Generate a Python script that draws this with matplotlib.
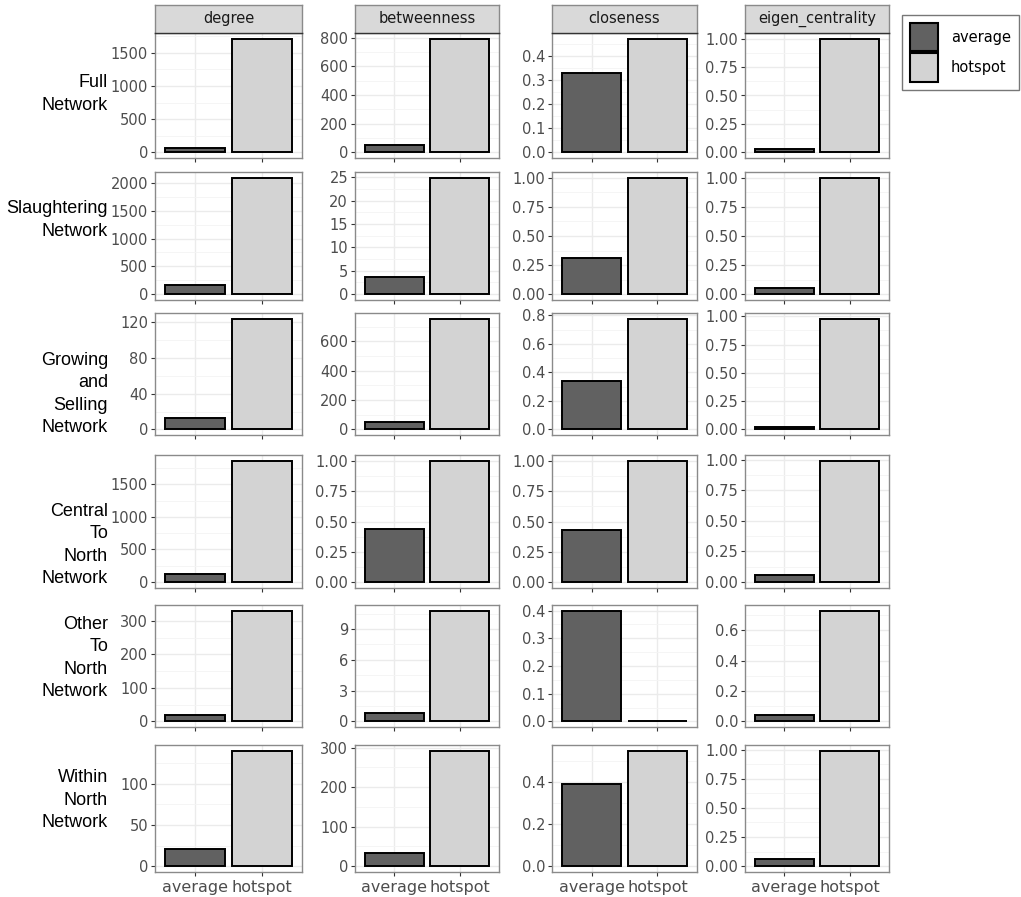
import matplotlib
matplotlib.use("Agg")
import matplotlib.pyplot as plt
from matplotlib.patches import Patch
from matplotlib.ticker import AutoMinorLocator, FixedLocator, FuncFormatter

# ---------------- data ----------------
row_labels = ["Full\nNetwork", "Slaughtering\nNetwork", "Growing\nand\nSelling\nNetwork",
              "Central\nTo\nNorth\nNetwork", "Other\nTo\nNorth\nNetwork", "Within\nNorth\nNetwork"]
metrics = ["degree", "betweenness", "closeness", "eigen_centrality"]
categories = ["average", "hotspot"]

degree_avg = [65, 158, 13, 129, 20, 21]
degree_hot = [1715, 2091, 124, 1856, 331, 140]
betweenness_avg = [52, 3.6, 52, 0.434, 0.83, 33]
betweenness_hot = [793, 24.9, 755, 1.0, 10.8, 292]
closeness_avg = [0.33, 0.31, 0.34, 0.433, 0.40, 0.392]
closeness_hot = [0.472, 1.0, 0.777, 1.0, 0.003, 0.55]
eigen_avg = [0.025, 0.057, 0.025, 0.061, 0.041, 0.065]
eigen_hot = [1.0, 1.0, 0.98, 0.99, 0.728, 0.99]

# y tick values per panel (row, metric)
degree_ticks = [[0, 500, 1000, 1500], [0, 500, 1000, 1500, 2000], [0, 40, 80, 120],
                [0, 500, 1000, 1500], [0, 100, 200, 300], [0, 50, 100]]
betweenness_ticks = [[0, 200, 400, 600, 800], [0, 5, 10, 15, 20, 25], [0, 200, 400, 600],
                     [0, 0.25, 0.5, 0.75, 1.0], [0, 3, 6, 9], [0, 100, 200, 300]]
closeness_ticks = [[0, 0.1, 0.2, 0.3, 0.4], [0, 0.25, 0.5, 0.75, 1.0], [0, 0.2, 0.4, 0.6, 0.8],
                   [0, 0.25, 0.5, 0.75, 1.0], [0, 0.1, 0.2, 0.3, 0.4], [0, 0.2, 0.4]]
eigen_ticks = [[0, 0.25, 0.5, 0.75, 1.0]] * 4 + [[0, 0.2, 0.4, 0.6], [0, 0.25, 0.5, 0.75, 1.0]]

avg_vals = [degree_avg, betweenness_avg, closeness_avg, eigen_avg]
hot_vals = [degree_hot, betweenness_hot, closeness_hot, eigen_hot]
tick_sets = [degree_ticks, betweenness_ticks, closeness_ticks, eigen_ticks]

# ---------------- style ----------------
W, H = 1021, 897
fill_colors = ["#616161", "#d3d3d3"]
tick_color = "#4d4d4d"

fig = plt.figure(figsize=(W / 100, H / 100), dpi=100)
fig.patch.set_facecolor("white")


def px_box(l, t, r, b):
    return [l / W, 1 - b / H, (r - l) / W, (b - t) / H]


col_lr = [(155, 302), (355, 499), (552, 697), (745, 889)]
row_tb = [(33, 158), (172, 300), (313, 435), (455, 588), (605, 727), (745, 872)]
label_y = [94, 220, 394, 545, 658, 800]


def fmt_for(ticks):
    decs = 0
    for t in ticks:
        s = repr(float(t))
        if float(t) != int(t):
            d = len(s.split(".")[1])
            decs = max(decs, d)
    return decs


for r in range(6):
    t, b = row_tb[r]
    for c in range(4):
        l, rr = col_lr[c]
        ax = fig.add_axes(px_box(l, t, rr, b))
        a = avg_vals[c][r]
        h = hot_vals[c][r]
        vals = [a, h]
        ymax = max(vals)
        ax.set_ylim(-0.05 * ymax, 1.05 * ymax)
        ax.set_xlim(0.4, 2.6)
        ax.set_axisbelow(True)
        ticks = tick_sets[c][r]
        decs = fmt_for(ticks)
        ax.yaxis.set_major_locator(FixedLocator(ticks))
        ax.yaxis.set_major_formatter(FuncFormatter(lambda v, p, d=decs: f"{v:.{d}f}"))
        ax.yaxis.set_minor_locator(AutoMinorLocator(2))
        ax.set_xticks([1, 2])
        ax.grid(True, which="major", color="#ebebeb", lw=1.0)
        ax.grid(True, which="minor", axis="y", color="#f4f4f4", lw=0.6)
        ax.bar([1, 2], vals, width=0.9, color=fill_colors, edgecolor="black", linewidth=1.4)
        for s in ax.spines.values():
            s.set_color("#8a8a8a")
            s.set_linewidth(1.0)
        ax.tick_params(axis="y", which="major", length=3, width=0.8, color="#333333",
                       labelsize=10.5, labelcolor=tick_color, pad=2)
        ax.tick_params(axis="y", which="minor", length=0)
        ax.tick_params(axis="x", length=3, width=0.8, color="#333333",
                       labelsize=11.5, labelcolor=tick_color, pad=3)
        if r == 5:
            ax.set_xticklabels(categories)
        else:
            ax.set_xticklabels(["", ""])
        if r == 0:
            sax = fig.add_axes(px_box(l, 5, rr, t))
            sax.set_facecolor("#d9d9d9")
            sax.set_xticks([])
            sax.set_yticks([])
            for s in sax.spines.values():
                s.set_color("#8a8a8a")
                s.set_linewidth(1.0)
            sax.spines["bottom"].set_color("#333333")
            sax.text(0.5, 0.5, metrics[c], ha="center", va="center", fontsize=10.5,
                     color="#1a1a1a", transform=sax.transAxes)
    fig.text(108 / W, 1 - label_y[r] / H, row_labels[r], ha="right", va="center",
             multialignment="right", fontsize=13, family="Liberation Sans",
             color="black", linespacing=1.4)

handles = [Patch(facecolor=fill_colors[i], edgecolor="black", linewidth=1.5, label=categories[i])
           for i in range(2)]
leg = fig.legend(handles=handles, loc="upper left", bbox_to_anchor=(902 / W, 1 - 15 / H),
                 frameon=True, fancybox=False, edgecolor="#555555", fontsize=10.5,
                 handlelength=1.9, handleheight=2.6, labelspacing=0.15, borderpad=0.55,
                 handletextpad=0.9, borderaxespad=0)
leg.get_frame().set_linewidth(1.0)

fig.savefig("out.png", dpi=100, facecolor="white")
